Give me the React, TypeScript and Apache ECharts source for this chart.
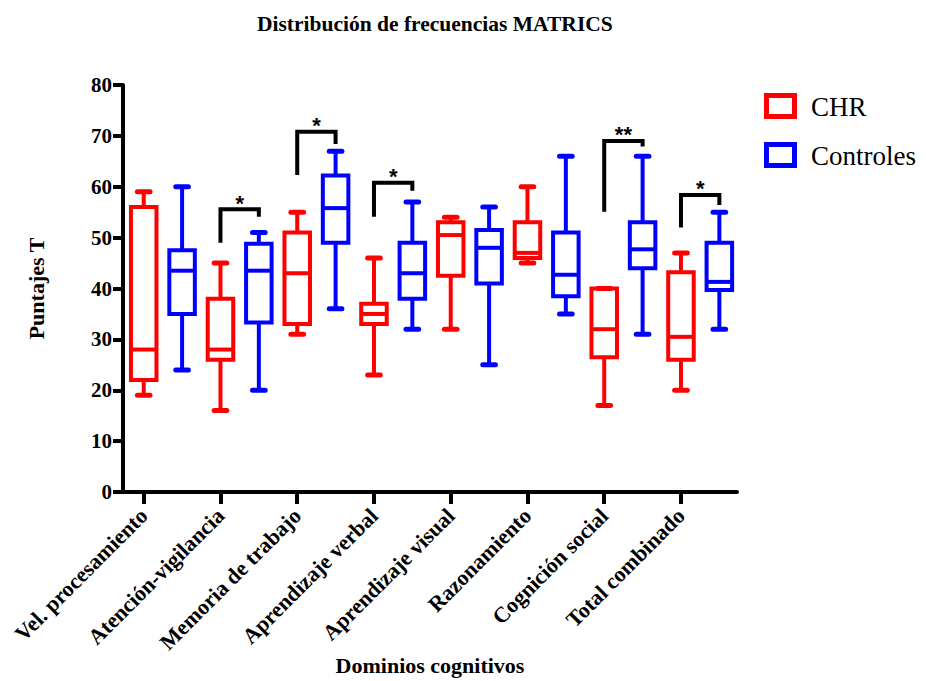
import React, { useEffect, useRef } from 'react';
import * as echarts from 'echarts';

const chartTitle = 'Distribución de frecuencias MATRICS';
const xAxisName = 'Dominios cognitivos';
const yAxisName = 'Puntajes T';
const seriesNames = ['CHR', 'Controles'];
const seriesColors = ['#ff0000', '#0000ff'];

const categories = [
  'Vel. procesamiento',
  'Atención-vigilancia',
  'Memoria de trabajo',
  'Aprendizaje verbal',
  'Aprendizaje visual',
  'Razonamiento',
  'Cognición social',
  'Total combinado',
];

// [min, Q1, median, Q3, max]
const chrBoxes = [
  [19, 22, 28, 56, 59],
  [16, 26, 28, 38, 45],
  [31, 33, 43, 51, 55],
  [23, 33, 35, 37, 46],
  [32, 42.5, 50.5, 53, 54],
  [45, 46, 47, 53, 60],
  [17, 26.5, 32, 40, 40],
  [20, 26, 30.5, 43.2, 47],
];

const controlesBoxes = [
  [24, 35, 43.5, 47.5, 60],
  [20, 33.3, 43.5, 48.8, 51],
  [36, 49, 55.8, 62.2, 67],
  [32, 38, 43, 49, 57],
  [25, 41, 48, 51.5, 56],
  [35, 38.5, 42.7, 51, 66],
  [31, 44, 47.7, 53, 66],
  [32, 39.7, 41.3, 49, 55],
];

// significance brackets
const sigCategory = [1, 2, 3, 6, 7];
const sigTop = [55.6, 70.8, 60.8, 69, 58.4];
const sigLeftEnd = [49, 62.3, 54.1, 55.1, 52];
const sigRightEnd = [54.1, 68.4, 59.2, 67.9, 56.4];
const sigLabels = ['*', '*', '*', '**', '*'];

const yMin = 0;
const yMax = 80;
const yInterval = 10;

const SERIF = '"Liberation Serif", "Times New Roman", serif';
const SANS = '"Liberation Sans", Arial, sans-serif';

const OFF = 0.54;
const redPos = (i: number) => 2 * i + OFF;
const bluePos = (i: number) => 2 * i + 1 + OFF;

function boxRenderer(color: string) {
  return (params: any, api: any) => {
    const x = api.value(0);
    const vMin = api.value(1);
    const vQ1 = api.value(2);
    const vMed = api.value(3);
    const vQ3 = api.value(4);
    const vMax = api.value(5);
    const slot = api.size([1, 0])[0];
    const bw = slot * 0.665;
    const cw = slot * 0.33;
    const cx = api.coord([x, vMax])[0];
    const yMaxP = api.coord([x, vMax])[1];
    const yQ3 = api.coord([x, vQ3])[1];
    const yMed = api.coord([x, vMed])[1];
    const yQ1 = api.coord([x, vQ1])[1];
    const yMinP = api.coord([x, vMin])[1];
    const st = { stroke: color, lineWidth: 4, fill: 'none' };
    const capSt = { stroke: color, lineWidth: 5, lineCap: 'round', fill: 'none' };
    return {
      type: 'group',
      children: [
        { type: 'line', shape: { x1: cx, y1: yMaxP, x2: cx, y2: yQ3 }, style: st },
        { type: 'line', shape: { x1: cx, y1: yQ1, x2: cx, y2: yMinP }, style: st },
        { type: 'line', shape: { x1: cx - cw / 2, y1: yMaxP, x2: cx + cw / 2, y2: yMaxP }, style: capSt },
        { type: 'line', shape: { x1: cx - cw / 2, y1: yMinP, x2: cx + cw / 2, y2: yMinP }, style: capSt },
        { type: 'rect', shape: { x: cx - bw / 2, y: yQ3, width: bw, height: yQ1 - yQ3 }, style: { stroke: color, lineWidth: 4, fill: 'none' } },
        { type: 'line', shape: { x1: cx - bw / 2, y1: yMed, x2: cx + bw / 2, y2: yMed }, style: st },
      ],
    };
  };
}

function bracketRenderer(params: any, api: any) {
  const x1v = api.value(0);
  const x2v = api.value(1);
  const top = api.coord([x1v, api.value(2)]);
  const left = api.coord([x1v, api.value(3)]);
  const right = api.coord([x2v, api.value(4)]);
  const x1 = top[0];
  const x2 = right[0];
  const yT = top[1];
  return {
    type: 'group',
    children: [
      {
        type: 'polyline',
        shape: { points: [[x1, left[1]], [x1, yT], [x2, yT], [x2, right[1]]] },
        style: { stroke: '#000', lineWidth: 4, fill: 'none', lineJoin: 'miter' },
      },
      {
        type: 'text',
        x: (x1 + x2) / 2,
        y: yT - 6,
        style: {
          text: sigLabels[params.dataIndex],
          fill: '#000',
          font: `bold 22px ${SANS}`,
          align: 'center',
          verticalAlign: 'middle',
        },
      },
    ],
  };
}

export default function App() {
  const ref = useRef<HTMLDivElement>(null);

  useEffect(() => {
    if (!ref.current) return;
    const chart = echarts.init(ref.current, null, { renderer: 'svg' });
    const tickVals = categories.map((_, i) => redPos(i));
    const axisFont = { fontFamily: SERIF, fontWeight: 'bold' as const, fontSize: 22, color: '#000' };

    const option: any = {
      animation: false,
      backgroundColor: '#fff',
      title: {
        text: chartTitle,
        left: 252,
        top: 8,
        textStyle: { fontFamily: SERIF, fontWeight: 'bold', fontSize: 21.5, color: '#000' },
      },
      grid: { left: 123, right: 189, top: 85, bottom: 189, containLabel: false, outerBoundsMode: 'none' },
      xAxis: {
        type: 'value',
        min: 0,
        max: 16,
        name: xAxisName,
        nameLocation: 'middle',
        nameGap: 162,
        nameMoveOverlap: false,
        nameTextStyle: axisFont,
        splitLine: { show: false },
        axisLine: { show: true, lineStyle: { color: '#000', width: 4 } },
        axisTick: { show: true, customValues: tickVals, length: 12, lineStyle: { color: '#000', width: 4 } },
        axisLabel: {
          show: true,
          customValues: tickVals,
          rotate: 45,
          margin: 20,
          ...axisFont,
          formatter: (v: number) => categories[Math.round((v - OFF) / 2)] ?? '',
        },
      },
      yAxis: {
        type: 'value',
        min: yMin,
        max: yMax,
        interval: yInterval,
        name: yAxisName,
        nameLocation: 'middle',
        nameGap: 76,
        nameMoveOverlap: false,
        nameTextStyle: axisFont,
        splitLine: { show: false },
        axisLine: { show: true, lineStyle: { color: '#000', width: 4 } },
        axisTick: { show: true, length: 10, lineStyle: { color: '#000', width: 4 } },
        axisLabel: { margin: 11, ...axisFont, fontSize: 21 },
      },
      graphic: [
        { type: 'rect', shape: { x: 766.5, y: 95.5, width: 28, height: 21 }, style: { stroke: seriesColors[0], lineWidth: 5, fill: '#fff' } },
        { type: 'text', x: 811, y: 107, style: { text: seriesNames[0], font: `27px ${SERIF}`, fill: '#000', verticalAlign: 'middle' } },
        { type: 'rect', shape: { x: 766.5, y: 144.5, width: 28, height: 21 }, style: { stroke: seriesColors[1], lineWidth: 5, fill: '#fff' } },
        { type: 'text', x: 811, y: 156, style: { text: seriesNames[1], font: `27px ${SERIF}`, fill: '#000', verticalAlign: 'middle' } },
      ],
      series: [
        {
          name: seriesNames[0],
          type: 'custom',
          renderItem: boxRenderer(seriesColors[0]),
          encode: { x: 0, y: [1, 2, 3, 4, 5] },
          data: chrBoxes.map((b, i) => [redPos(i), ...b]),
          clip: false,
        },
        {
          name: seriesNames[1],
          type: 'custom',
          renderItem: boxRenderer(seriesColors[1]),
          encode: { x: 0, y: [1, 2, 3, 4, 5] },
          data: controlesBoxes.map((b, i) => [bluePos(i), ...b]),
          clip: false,
        },
        {
          name: 'significancia',
          type: 'custom',
          renderItem: bracketRenderer,
          encode: { x: [0, 1], y: [2, 3, 4] },
          data: sigCategory.map((c, k) => [redPos(c), bluePos(c), sigTop[k], sigLeftEnd[k], sigRightEnd[k]]),
          clip: false,
        },
      ],
    };
    chart.setOption(option);
    return () => chart.dispose();
  }, []);

  return <div ref={ref} style={{ width: 926, height: 681, position: 'absolute', left: 0, top: 0 }} />;
}
